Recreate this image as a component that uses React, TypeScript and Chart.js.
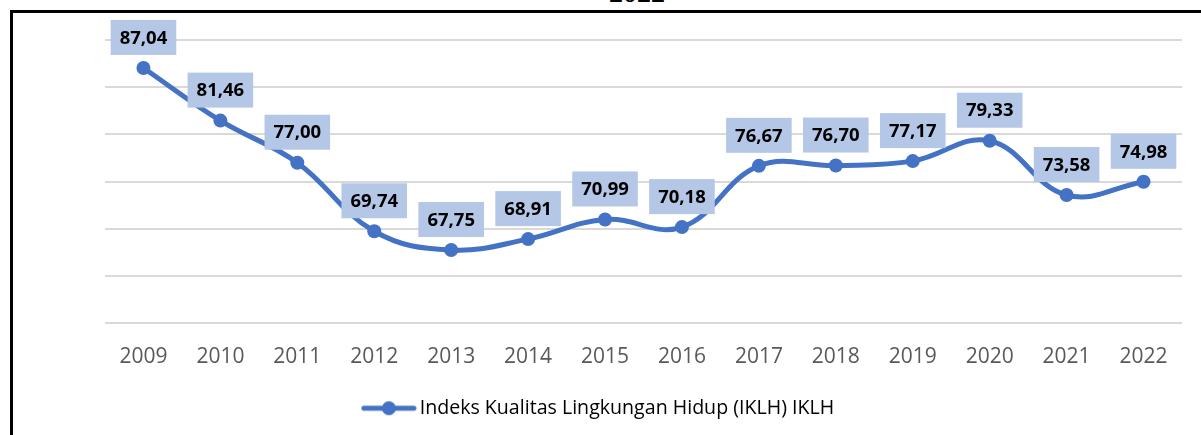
import React, { useEffect, useRef } from "react";
import { Chart, registerables } from "chart.js";

Chart.register(...registerables);

const years = ["2009", "2010", "2011", "2012", "2013", "2014", "2015", "2016", "2017", "2018", "2019", "2020", "2021", "2022"];
const iklh = [87.04, 81.46, 77.0, 69.74, 67.75, 68.91, 70.99, 70.18, 76.67, 76.7, 77.17, 79.33, 73.58, 74.98];
const seriesLabel = "Indeks Kualitas Lingkungan Hidup (IKLH) IKLH";
const yMin = 60;
const yMax = 90;
const yStep = 5;
const titleText = "2022";

const LINE = "#4472C4";
const BOX = "#B4C7E7";
const GRID = "#D9D9D9";
const AXIS_TEXT = "#595959";
const FONT = '"Open Sans", "Noto Sans", sans-serif';

const fmt = (v: number) => v.toFixed(2).replace(".", ",");

const boxLabels = {
  id: "boxLabels",
  afterDatasetsDraw(chart: any) {
    const ctx = chart.ctx;
    const meta = chart.getDatasetMeta(0);
    ctx.save();
    ctx.font = `bold 18.5px ${FONT}`;
    ctx.textAlign = "center";
    ctx.textBaseline = "middle";
    meta.data.forEach((pt: any, i: number) => {
      const text = fmt(iklh[i]);
      const w = ctx.measureText(text).width + 18;
      const h = 35;
      const x = pt.x;
      const top = pt.y - 13 - h;
      ctx.fillStyle = BOX;
      ctx.fillRect(x - w / 2, top, w, h);
      ctx.fillStyle = "#000000";
      ctx.fillText(text, x, top + h / 2 + 1);
    });
    ctx.restore();
  },
};

export default function App() {
  const canvasRef = useRef<HTMLCanvasElement | null>(null);

  useEffect(() => {
    if (!canvasRef.current) return;
    const icon = document.createElement("canvas");
    icon.width = 56;
    icon.height = 18;
    const ictx = icon.getContext("2d")!;
    ictx.strokeStyle = LINE;
    ictx.lineWidth = 5;
    ictx.lineCap = "round";
    ictx.beginPath();
    ictx.moveTo(3, 9);
    ictx.lineTo(53, 9);
    ictx.stroke();
    ictx.fillStyle = LINE;
    ictx.beginPath();
    ictx.arc(28, 9, 7, 0, Math.PI * 2);
    ictx.fill();

    const chart = new Chart(canvasRef.current, {
      type: "line",
      data: {
        labels: years,
        datasets: [
          {
            label: seriesLabel,
            data: iklh,
            borderColor: LINE,
            backgroundColor: LINE,
            borderWidth: 5,
            borderCapStyle: "round",
            tension: 0.4,
            pointRadius: 7,
            pointBackgroundColor: LINE,
            pointBorderWidth: 0,
            fill: false,
          },
        ],
      },
      options: {
        responsive: false,
        animation: false,
        layout: { padding: { left: 10, right: 9, top: 40, bottom: 7 } },
        scales: {
          x: {
            offset: true,
            grid: { display: false },
            border: { display: false },
            ticks: { color: AXIS_TEXT, font: { family: FONT, size: 21 }, padding: 13 },
          },
          y: {
            min: yMin,
            max: yMax,
            grid: { color: GRID, lineWidth: 2, drawTicks: false },
            border: { display: false },
            ticks: { display: false, stepSize: yStep },
            afterFit: (s: any) => {
              s.width = 95;
            },
          },
          y2: {
            position: "right",
            grid: { display: false },
            border: { display: false },
            ticks: { display: false },
            afterFit: (s: any) => {
              s.width = 10;
            },
          },
        },
        plugins: {
          title: { display: false },
          tooltip: { enabled: false },
          legend: {
            position: "bottom",
            labels: {
              color: AXIS_TEXT,
              font: { family: FONT, size: 19.6 },
              usePointStyle: true,
              pointStyleWidth: 42,
              padding: 16,
              generateLabels: () => [
                {
                  text: seriesLabel,
                  pointStyle: icon,
                  fillStyle: LINE,
                  strokeStyle: LINE,
                  lineWidth: 0,
                  hidden: false,
                  datasetIndex: 0,
                },
              ],
            },
          },
        },
      },
      plugins: [boxLabels],
    } as any);
    return () => chart.destroy();
  }, []);

  return (
    <div style={{ position: "fixed", left: 0, top: 0, width: 1201, height: 435, overflow: "hidden", background: "#fff" }}>
      <div
        style={{
          position: "absolute",
          left: 0,
          width: 1274,
          top: -21,
          textAlign: "center",
          font: 'bold 28px "Liberation Serif", serif',
          lineHeight: "28px",
          color: "#000",
        }}
      >
        {titleText}
      </div>
      <div
        style={{
          position: "absolute",
          left: 10,
          top: 10,
          width: 1400,
          height: 600,
          borderLeft: "3px solid #000",
          borderTop: "3px solid #000",
        }}
      />
      <canvas ref={canvasRef} width={1201} height={435} style={{ position: "absolute", left: 0, top: 0 }} />
    </div>
  );
}
